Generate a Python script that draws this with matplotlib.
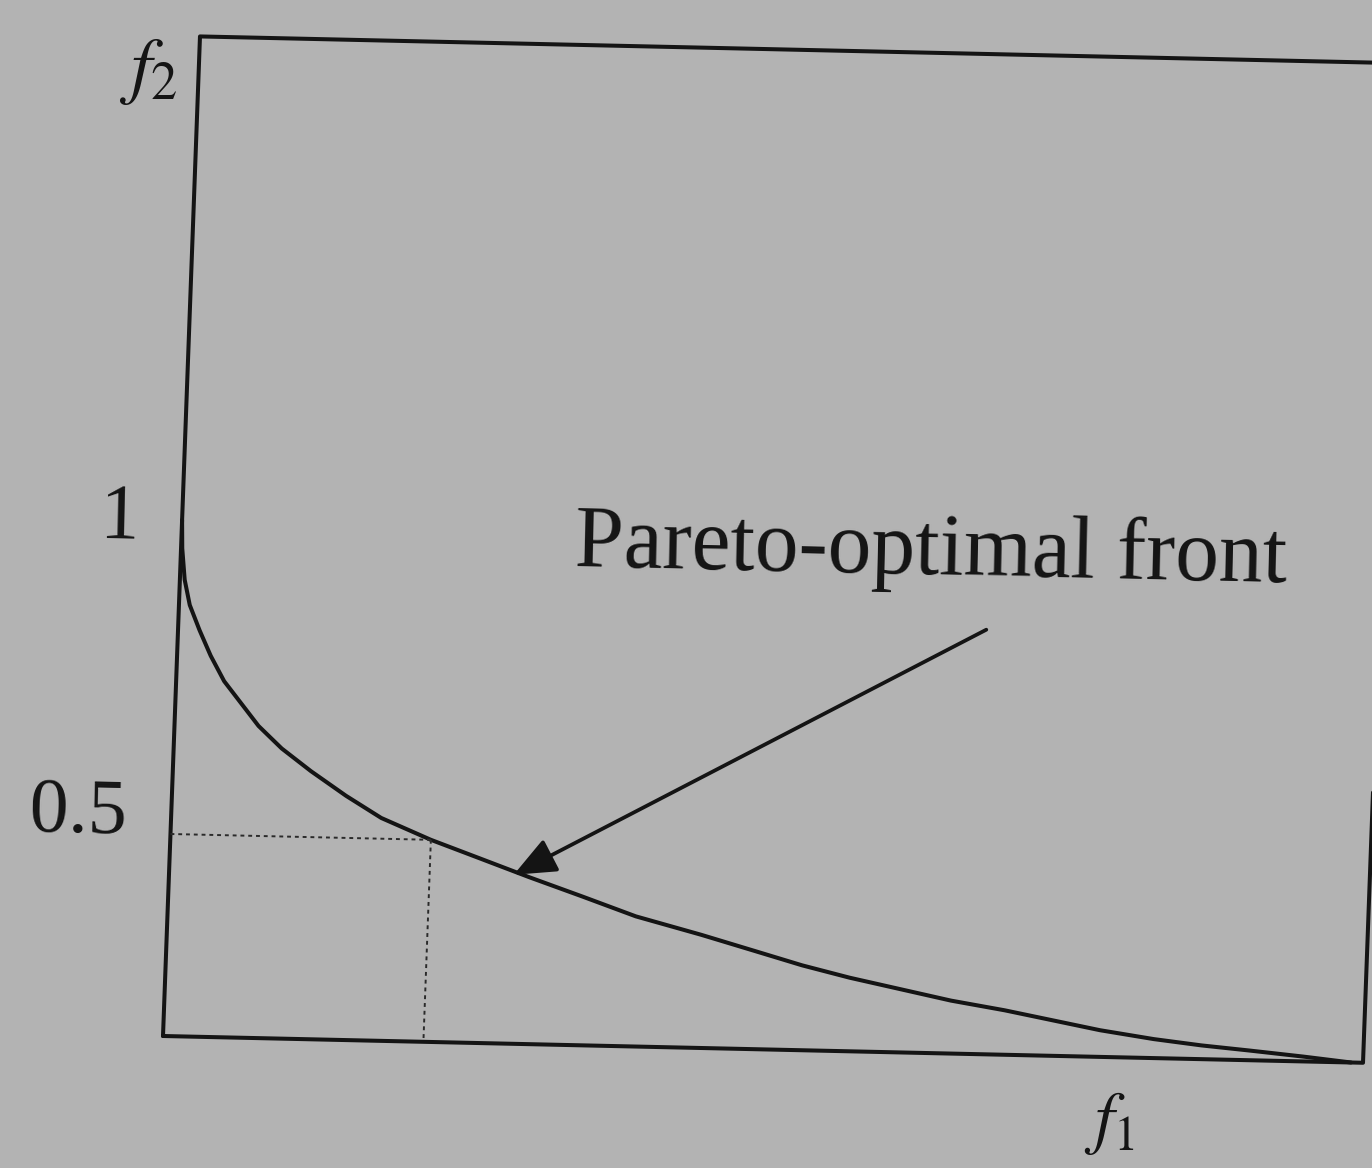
import numpy as np
import matplotlib
matplotlib.use('Agg')
import matplotlib.pyplot as plt
import matplotlib.transforms as mtransforms

plt.rcParams['font.family'] = ['Liberation Serif', 'DejaVu Serif']
plt.rcParams['mathtext.fontset'] = 'stix'

# Pareto-optimal front
f1_front = np.array([0.0, 0.001, 0.004, 0.009, 0.018, 0.028, 0.04, 0.055, 0.07,
                     0.09, 0.115, 0.145, 0.175, 0.217, 0.26, 0.30, 0.345, 0.39,
                     0.445, 0.49, 0.53, 0.57, 0.615, 0.655, 0.70, 0.74, 0.78,
                     0.825, 0.865, 0.905, 0.95, 0.99])
f2_front = np.array([1.0, 0.955, 0.905, 0.865, 0.825, 0.785, 0.745, 0.71, 0.675,
                     0.64, 0.605, 0.567, 0.533, 0.5, 0.455, 0.413, 0.368, 0.322,
                     0.28, 0.243, 0.21, 0.182, 0.155, 0.131, 0.11, 0.088, 0.066,
                     0.047, 0.034, 0.024, 0.012, 0.0])

# marked point on the front and the box of the objective space
f1_mark = 0.217
f2_mark = 0.5
f1_box = 1.0
f2_box = 1.77

f2_ticks = [0.5, 1.0]
f2_tick_labels = ['0.5', '1']

arrow_tail = (0.673, 0.854)
arrow_tip = (0.287, 0.418)
front_label = 'Pareto-optimal front'
front_label_pos = (0.328, 0.94)

# the sketch is not drawn to an even scale on f2
f2_knots = [-1.0, 0.0, 0.5, 1.0, 3.0]
px_knots = [-404.0, 0.0, 202.0, 516.0, 1772.0]


def f2_forward(v):
    return np.interp(v, f2_knots, px_knots)


def f2_inverse(v):
    return np.interp(v, px_knots, f2_knots)


ink = '#141414'
paper = '#b3b3b3'

fig = plt.figure(figsize=(13.72, 11.68), dpi=100)
fig.patch.set_facecolor(paper)
ax = fig.add_axes([0, 0, 1, 1])
ax.set_facecolor(paper)
ax.set_yscale('function', functions=(f2_forward, f2_inverse))

# page is slightly skewed in the scan
ox, oy = 163.0, 132.0
M = np.array([[1.0, 0.037], [-0.0223, 1.0]])
off = np.array([ox, oy]) - M @ np.array([ox, oy])
tilt = mtransforms.Affine2D(np.array([[M[0, 0], M[0, 1], off[0]],
                                      [M[1, 0], M[1, 1], off[1]],
                                      [0, 0, 1]]))
trans = ax.transData + tilt

# frame
ax.plot([0, f1_box, f1_box, 0, 0], [0, 0, f2_box, f2_box, 0],
        color=ink, lw=2.9, transform=trans, solid_capstyle='round',
        solid_joinstyle='round')

# front
ax.plot(f1_front, f2_front, color=ink, lw=2.9, transform=trans,
        solid_joinstyle='round', solid_capstyle='round')

# dotted guides to the marked point
ax.plot([0, f1_mark], [f2_mark, f2_mark], color='#2a2a2a', lw=1.4,
        ls=(0, (2, 2)), transform=trans)
ax.plot([f1_mark, f1_mark], [f2_mark, 0], color='#2a2a2a', lw=1.4,
        ls=(0, (2, 2)), transform=trans)

ax.annotate('', xy=arrow_tip, xytext=arrow_tail, xycoords=trans, textcoords=trans,
            arrowprops=dict(arrowstyle='-|>,head_length=1.3,head_width=0.55',
                            mutation_scale=20, lw=2.7, color=ink,
                            shrinkA=0, shrinkB=0))

ax.text(front_label_pos[0], front_label_pos[1], front_label, transform=trans,
        fontsize=63, color=ink, ha='left', va='baseline', rotation=-1.3,
        rotation_mode='anchor')

for v, lab in zip(f2_ticks, f2_tick_labels):
    va = 'baseline' if v == 0.5 else 'center'
    ax.text(-0.036, v, lab, transform=trans, fontsize=56, color=ink,
            ha='right', va=va, rotation=-1.3)

ax.text(-0.017, 1.713, r'$f_2$', transform=trans, fontsize=54, color=ink,
        ha='right', va='center')
ax.text(0.791, -0.165, r'$f_1$', transform=trans, fontsize=50, color=ink,
        ha='center', va='center')

ax.set_xlim(-ox / 1200, (1372 - ox) / 1200)
ax.set_ylim(f2_inverse(-oy), f2_inverse(1168 - oy))
ax.axis('off')

fig.savefig('out.png', dpi=100, facecolor=paper)
